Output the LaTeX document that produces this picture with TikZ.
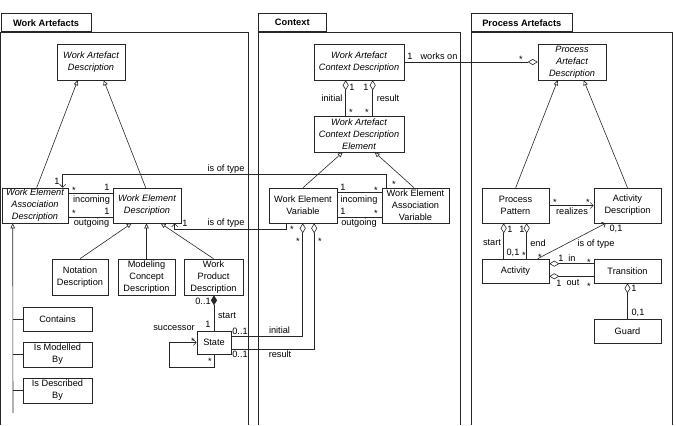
\documentclass[tikz,border=0pt]{standalone}
\usepackage{fontspec}
\setmainfont{Liberation Sans}
\usetikzlibrary{arrows.meta}
\begin{document}
\begin{tikzpicture}[x=1pt,y=-1pt,
 box/.style={draw=black!85, line width=0.6pt, inner sep=0pt, align=center, font=\fontsize{9.2}{12}\selectfont, fill=white},
 ibox/.style={box, font=\fontsize{9.2}{12}\selectfont\itshape},
 tabbox/.style={draw=black!85, line width=0.6pt, inner sep=0pt, font=\fontsize{9.3}{12}\selectfont\bfseries, minimum height=18pt, anchor=south west},
 lab/.style={inner sep=0pt, font=\fontsize{9.2}{12}\selectfont},
 star/.style={inner sep=0pt, font=\fontsize{9.2}{12}\selectfont, text height=7pt, text depth=0pt},
 con/.style={draw=black!85, line width=0.6pt},
 gen/.style={con, -{Triangle[open,length=5pt,width=4.5pt]}},
 typ/.style={con, -{Straight Barb[length=3pt,width=6pt]}},
 agg/.style={con, -{Diamond[open,length=10pt,width=6pt]}},
 comp/.style={con, -{Diamond[length=10pt,width=6pt]}},
 frame/.style={draw=black!85, line width=0.6pt}]
\useasboundingbox (0,0) rectangle (676,425);

% frames
\draw[frame] (0.5,425) -- (0.5,32) -- (248,32) -- (248,425);
\node[tabbox, minimum width=90.5pt] (tabWA) at (0.5,32) {Work Artefacts};
\draw[frame] (258,425) -- (258,32) -- (460,32) -- (460,425);
\node[tabbox, minimum width=68pt] (tabC) at (258,32) {Context};
\draw[frame] (471,425) -- (471,32) -- (672,32) -- (672,425);
\node[tabbox, minimum width=101pt] (tabPA) at (471,32) {Process Artefacts};

% Work Artefacts nodes
\node[ibox, minimum width=68pt, minimum height=36pt] (WAD) at (91,62) {Work Artefact\\Description};
\node[ibox, minimum width=66pt, minimum height=35pt] (WEAD) at (35,205.5) {Work Element\\Association\\Description};
\node[ibox, minimum width=68pt, minimum height=35pt] (WED) at (147,205.5) {Work Element\\Description};
\node[box, minimum width=56pt, minimum height=36pt] (ND) at (80,277) {Notation\\Description};
\node[box, minimum width=57pt, minimum height=36pt] (MCD) at (146.5,277) {Modeling\\Concept\\Description};
\node[box, minimum width=59pt, minimum height=36pt] (WPD) at (213.5,277) {Work\\Product\\Description};
\node[box, minimum width=69pt, minimum height=24pt] (CT) at (57.5,319) {Contains};
\node[box, minimum width=69pt, minimum height=25pt] (IMB) at (57.5,354.5) {Is Modelled\\By};
\node[box, minimum width=69pt, minimum height=25pt] (IDB) at (57.5,390.5) {Is Described\\By};
\node[box, minimum width=34pt, minimum height=23pt] (ST) at (214,342.5) {State};

% Context nodes
\node[ibox, minimum width=90pt, minimum height=36pt] (WACD) at (359,62) {Work Artefact\\Context Description};
\node[ibox, minimum width=90pt, minimum height=36pt] (WACDE) at (359,134) {Work Artefact\\Context Description\\Element};
\node[box, minimum width=68pt, minimum height=35pt] (WEV) at (303,205.5) {Work Element\\Variable};
\node[box, minimum width=67pt, minimum height=35pt] (WEAV) at (415.5,205.5) {Work Element\\Association\\Variable};

% Process nodes
\node[ibox, minimum width=68pt, minimum height=36pt] (PAD) at (572,62) {Process\\Artefact\\Description};
\node[box, minimum width=67pt, minimum height=35pt] (PP) at (515.5,205.5) {Process\\Pattern};
\node[box, minimum width=67pt, minimum height=35pt] (AD) at (627.5,205.5) {Activity\\Description};
\node[box, minimum width=67pt, minimum height=24pt] (AC) at (515.5,271) {Activity};
\node[box, minimum width=67pt, minimum height=24pt] (TR) at (627.5,271) {Transition};
\node[box, minimum width=67pt, minimum height=24pt] (GU) at (627.5,331) {Guard};

% Work Artefacts connectors
\draw[gen] ([xshift=35pt]WEAD.north west) -- ([xshift=21pt]WAD.south west);
\draw[gen] ([xshift=33pt]WED.north west) -- ([xshift=47pt]WAD.south west);
\draw[gen] (ND.north) -- ([xshift=19pt]WED.south west);
\draw[gen] (MCD.north) -- (MCD.north |- WED.south);
\draw[gen] (WPD.north) -- ([xshift=48pt]WED.south west);
\coordinate (hb) at (13,413);
\draw[gen] (hb) -- ([xshift=11pt]WEAD.south west);
\draw[con] (CT.west) -- (CT.west -| hb);
\draw[con] (IMB.west) -- (IMB.west -| hb);
\draw[con] (IDB.west) -- (IDB.west -| hb);
\draw[con] ([yshift=-6pt]WEAD.north east) -- ([yshift=-6pt]WED.north west);
\draw[con] ([yshift=6pt]WEAD.south east) -- ([yshift=6pt]WED.south west);
\draw[comp] (ST.north) -- (ST.north |- WPD.south);
\draw[typ] (ST.south) -- ++(0,-13pt) -- ++(-45pt,0) |- (ST.west);

% is of type
\draw[typ] ([xshift=5pt]WEAV.north west) -- ++(0,13pt) -| ([xshift=61pt]WEAD.north west);
\draw[typ] ([xshift=18pt]WEV.south west) -- ++(0,-6pt) -| ([xshift=62pt]WED.south west);

% Context connectors
\draw[agg] ([xshift=32pt]WACDE.north west) -- ([xshift=32pt]WACD.south west);
\draw[agg] ([xshift=59pt]WACDE.north west) -- ([xshift=59pt]WACD.south west);
\draw[gen] (WEV.north) -- ([xshift=29pt]WACDE.south west);
\draw[gen] ([xshift=-1.5pt]WEAV.north) -- ([xshift=61pt]WACDE.south west);
\draw[con] ([yshift=-5pt]WEV.north east) -- ([yshift=-5pt]WEAV.north west);
\draw[con] ([yshift=6pt]WEV.south east) -- ([yshift=6pt]WEAV.south west);
\draw[agg] ([yshift=-6pt]ST.north east) -| ([xshift=34pt]WEV.south west);
\draw[agg] ([yshift=5pt]ST.south east) -| ([xshift=45.5pt]WEV.south west);
\draw[agg] (WACD.east) -- (PAD.west);

% Process connectors
\draw[gen] ([xshift=34pt]PP.north west) -- ([xshift=20pt]PAD.south west);
\draw[gen] (AD.north) -- ([xshift=46pt]PAD.south west);
\draw[typ] (PP.east) -- (AD.west);
\draw[agg] ([xshift=22pt]AC.north west) -- ([xshift=22pt]PP.south west);
\draw[agg] ([xshift=45pt]AC.north west) -- ([xshift=45pt]PP.south west);
\draw[typ] ([xshift=56pt]AC.north west) -- ([xshift=12pt]AD.south west);
\draw[agg] ([yshift=-5pt]TR.north west) -- ([yshift=-5pt]AC.north east);
\draw[agg] ([yshift=7pt]TR.south west) -- ([yshift=7pt]AC.south east);
\draw[agg] (GU.north) -- (TR.south);

% labels: Work Artefacts
\node[lab] (l1) at (226,169) {is of type};
\node[lab] (l2) at (57,181) {1};
\node[star] (l3) at (74,190) {*};
\node[lab] (l4) at (107,187) {1};
\node[lab] (l5) at (91.5,200) {incoming};
\node[star] (l6) at (74,213) {*};
\node[lab] (l7) at (107,211) {1};
\node[lab] (l8) at (91.5,223.5) {outgoing};
\node[lab] (l9) at (185,223) {1};
\node[lab] (l10) at (226,223) {is of type};
\node[lab] (l11) at (203,301) {0..1};
\node[lab] (l12) at (227,316) {start};
\node[lab] (l13) at (208,324) {1};
\node[lab] (l14) at (174,328) {successor};
\node[star] (l15) at (193,341) {*};
\node[star] (l16) at (210,361) {*};
\node[lab] (l17) at (240,331) {0..1};
\node[lab] (l18) at (240,354) {0..1};
\node[lab] (l19) at (279.5,330) {initial};
\node[lab] (l20) at (280,354) {result};

% labels: Context
\node[lab] (c1) at (352,87) {1};
\node[lab] (c2) at (366,87) {1};
\node[lab] (c3) at (332,98) {initial};
\node[lab] (c4) at (388,98) {result};
\node[star] (c5) at (351,112) {*};
\node[star] (c6) at (367,112) {*};
\node[lab] (c7) at (410,56) {1};
\node[lab] (c8) at (439,56) {works on};
\node[star] (c9) at (521,59) {*};
\node[lab] (c10) at (343,187) {1};
\node[star] (c11) at (376,190) {*};
\node[lab] (c12) at (359,200) {incoming};
\node[lab] (c13) at (343,211) {1};
\node[star] (c14) at (376,213) {*};
\node[lab] (c15) at (359,223.5) {outgoing};
\node[star] (c16) at (394,184) {*};
\node[star] (c17) at (292,229) {*};
\node[star] (c18) at (298,241) {*};
\node[star] (c19) at (320,241) {*};

% labels: Process
\node[star] (p1) at (555,202) {*};
\node[star] (p2) at (588,202) {*};
\node[lab] (p3) at (572,211) {realizes};
\node[lab] (p4) at (510,229) {1};
\node[lab] (p5) at (522,229) {1};
\node[lab] (p6) at (492,243) {start};
\node[lab] (p7) at (538,243) {end};
\node[lab] (p8) at (513,253) {0,1};
\node[star] (p9) at (524,255) {*};
\node[lab] (p10) at (616,229) {0,1};
\node[lab] (p11) at (596,244) {is of type};
\node[star] (p12) at (540,257) {*};
\node[lab] (p13) at (561,258) {1};
\node[lab] (p14) at (572,258) {in};
\node[star] (p15) at (589,262) {*};
\node[lab] (p16) at (559,283) {1};
\node[lab] (p17) at (573,283) {out};
\node[star] (p18) at (589,286) {*};
\node[lab] (p19) at (634,288) {1};
\node[lab] (p20) at (638,313) {0,1};
\end{tikzpicture}
\end{document}
